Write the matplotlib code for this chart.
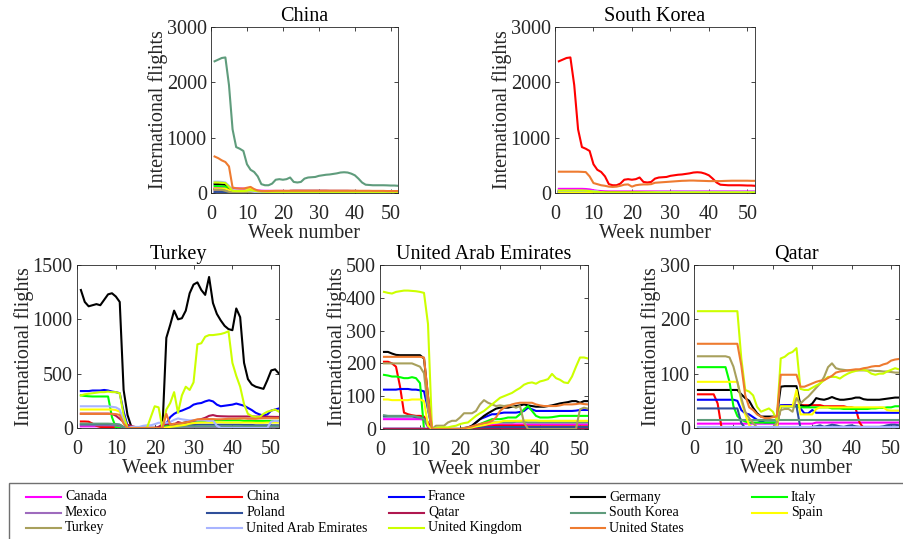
import numpy as np
import matplotlib.pyplot as plt
from matplotlib.lines import Line2D
from matplotlib.patches import Rectangle

plt.rcParams['font.family'] = ['Liberation Serif', 'DejaVu Serif']

countries = ['Canada', 'China', 'France', 'Germany', 'Italy',
             'Mexico', 'Poland', 'Qatar', 'South Korea', 'Spain',
             'Turkey', 'United Arab Emirates', 'United Kingdom', 'United States']

colors = {
    'Canada': '#ff00ff', 'China': '#ff0000', 'France': '#0000ff',
    'Germany': '#000000', 'Italy': '#00ff00', 'Mexico': '#9e6bbd',
    'Poland': '#2f4f9a', 'Qatar': '#b0174f', 'South Korea': '#5f9c7c',
    'Spain': '#ffff00', 'Turkey': '#a8a05c', 'United Arab Emirates': '#a8b4ff',
    'United Kingdom': '#ccff00', 'United States': '#ee7b30',
}

# weekly international flights per route, weeks 1..52 (13 weeks per row)

# --- routes from China
china_skorea = [2380, 2410, 2440, 2450, 1950, 1150, 830, 800, 760, 520, 420, 380, 300,
                160, 140, 140, 170, 240, 250, 240, 250, 280, 200, 190, 200, 260,
                280, 285, 290, 310, 320, 330, 335, 345, 355, 370, 375, 370, 350,
                320, 260, 190, 150, 145, 140, 140, 140, 140, 138, 135, 135, 130]
china_us = [660, 630, 590, 560, 480, 100, 85, 80, 80, 95, 110, 70, 45,
            35, 35, 35, 38, 40, 40, 40, 40, 40, 40, 40, 40, 40,
            40, 40, 40, 40, 40, 40, 40, 40, 40, 40, 40, 40, 40,
            40, 40, 40, 40, 40, 38, 38, 38, 38, 35, 35, 35, 35]
china_uk = [190, 190, 185, 180, 110, 40, 35, 35, 35, 40, 50, 40, 30,
            25, 22, 20, 20, 20, 20, 20, 20, 20, 20, 20, 20, 20,
            20, 20, 20, 20, 20, 20, 20, 20, 20, 20, 20, 20, 20,
            20, 20, 20, 20, 20, 20, 20, 20, 20, 20, 20, 20, 20]
china_germany = [160, 160, 155, 150, 100, 30, 25, 20, 20, 20, 20, 18, 15,
                 15, 15, 15, 15, 15, 15, 15, 15, 15, 15, 15, 15, 15,
                 15, 15, 15, 15, 15, 15, 15, 15, 15, 15, 15, 15, 15,
                 15, 15, 15, 15, 15, 15, 15, 15, 15, 15, 15, 15, 15]
china_italy = [125, 125, 120, 115, 60, 10, 8, 5, 5, 5, 5, 5, 3,
               3, 3, 3, 3, 3, 3, 3, 3, 3, 3, 3, 3, 3,
               3, 3, 3, 3, 3, 3, 3, 3, 3, 3, 3, 3, 3,
               3, 3, 3, 3, 3, 3, 3, 3, 3, 3, 3, 3, 3]
china_canada = [90, 90, 90, 88, 85, 84, 84, 82, 80, 70, 66, 60, 45,
                42, 40, 40, 38, 38, 38, 38, 36, 36, 36, 36, 36, 35,
                35, 35, 35, 35, 35, 35, 35, 35, 35, 35, 35, 35, 35,
                35, 34, 34, 34, 34, 34, 34, 34, 34, 33, 33, 33, 33]
china_spain = [80, 80, 80, 78, 50, 15, 10, 10, 20, 60, 90, 50, 15,
               10, 10, 10, 10, 10, 10, 10, 10, 10, 10, 10, 10, 10,
               10, 10, 10, 10, 10, 10, 10, 10, 10, 10, 10, 10, 10,
               10, 10, 10, 10, 10, 10, 10, 10, 10, 10, 10, 10, 10]
china_france = [70, 70, 70, 68, 40, 15, 12, 10, 10, 10, 10, 8, 6,
                5, 5, 5, 5, 5, 5, 5, 5, 5, 5, 5, 5, 5,
                6, 6, 6, 6, 6, 6, 6, 6, 6, 6, 6, 6, 6,
                6, 6, 6, 6, 6, 6, 6, 6, 6, 6, 6, 6, 6]
china_poland = [20, 20, 20, 18, 10, 4, 3, 3, 3, 3, 3, 2, 2,
                2, 2, 2, 2, 2, 2, 2, 2, 2, 2, 2, 2, 2,
                2, 2, 2, 2, 2, 2, 2, 2, 2, 2, 2, 2, 2,
                2, 2, 2, 2, 2, 2, 2, 2, 2, 2, 2, 2, 2]
china_mexico = [8, 8, 8, 8, 6, 4, 4, 4, 4, 4, 4, 3, 3,
                3, 3, 3, 3, 3, 3, 3, 3, 3, 3, 3, 3, 3,
                3, 3, 3, 3, 3, 3, 3, 3, 3, 3, 3, 3, 3,
                3, 3, 3, 3, 3, 3, 3, 3, 3, 3, 3, 3, 3]
china_turkey = [60, 60, 58, 40, 20, 10, 8, 8, 8, 8, 6, 3, 0,
                0, 0, 0, 0, 0, 0, 0, 0, 0, 2, 3, 3, 3,
                3, 3, 3, 3, 3, 3, 3, 3, 3, 3, 3, 3, 3,
                3, 3, 3, 3, 3, 3, 3, 3, 3, 3, 3, 3, 3]
china_uae = [205, 205, 200, 190, 130, 50, 45, 42, 40, 40, 38, 20, 0,
             0, 0, 0, 0, 0, 0, 0, 0, 2, 3, 3, 5, 5,
             8, 8, 10, 10, 10, 10, 10, 10, 10, 10, 8, 8, 8,
             8, 8, 8, 8, 8, 8, 8, 8, 8, 8, 8, 8, 8]
china_qatar = [62, 62, 62, 62, 62, 45, 0, 0, 0, 0, 0, 0, 0,
               0, 0, 0, 0, 0, 0, 0, 0, 40, 42, 42, 42, 42,
               42, 42, 42, 42, 42, 42, 40, 40, 40, 40, 40, 40, 38,
               38, 36, 10, 0, 0, 0, 0, 0, 0, 0, 0, 0, 0]

# --- routes from South Korea
skorea_us = [385, 385, 385, 385, 385, 385, 382, 378, 300, 180, 160, 140, 130,
             115, 110, 115, 130, 150, 155, 115, 140, 150, 155, 155, 160, 185,
             190, 195, 200, 205, 210, 215, 220, 222, 225, 225, 222, 220, 218,
             215, 215, 215, 215, 218, 220, 222, 222, 222, 222, 222, 220, 220]
skorea_canada = [75, 75, 75, 75, 75, 75, 75, 72, 65, 50, 40, 35, 30,
                 28, 28, 28, 28, 28, 28, 28, 28, 28, 28, 28, 28, 28,
                 28, 28, 28, 28, 28, 28, 28, 28, 28, 28, 28, 28, 28,
                 28, 28, 28, 28, 28, 28, 28, 28, 28, 28, 28, 28, 28]
skorea_uk = [45, 45, 45, 45, 45, 45, 45, 42, 35, 25, 20, 15, 12,
             12, 12, 12, 12, 12, 12, 12, 12, 12, 12, 12, 12, 12,
             12, 12, 12, 12, 12, 12, 12, 12, 12, 12, 12, 12, 12,
             12, 12, 12, 12, 12, 12, 12, 12, 12, 12, 12, 12, 12]
skorea_germany = [35, 35, 35, 35, 35, 35, 35, 33, 28, 15, 10, 8, 8,
                  8, 8, 8, 8, 8, 8, 8, 8, 8, 8, 8, 8, 8,
                  8, 8, 8, 8, 8, 8, 8, 8, 8, 8, 8, 8, 8,
                  8, 8, 8, 8, 8, 8, 8, 8, 8, 8, 8, 8, 8]
skorea_france = [25, 25, 25, 25, 25, 25, 25, 24, 20, 10, 6, 5, 5,
                 5, 5, 5, 5, 5, 5, 5, 5, 5, 5, 5, 5, 5,
                 5, 5, 5, 5, 5, 5, 5, 5, 5, 5, 5, 5, 5,
                 5, 5, 5, 5, 5, 5, 5, 5, 5, 5, 5, 5, 5]
skorea_italy = [15, 15, 15, 15, 15, 15, 15, 14, 10, 5, 2, 1, 1,
                1, 1, 1, 1, 1, 1, 1, 1, 1, 1, 1, 1, 1,
                1, 1, 1, 1, 1, 1, 1, 1, 1, 1, 1, 1, 1,
                1, 1, 1, 1, 1, 1, 1, 1, 1, 1, 1, 1, 1]
skorea_spain = [10, 10, 10, 10, 10, 10, 10, 10, 8, 4, 2, 1, 1,
                1, 1, 1, 1, 1, 1, 1, 1, 1, 1, 1, 1, 1,
                1, 1, 1, 1, 1, 1, 1, 1, 1, 1, 1, 1, 1,
                1, 1, 1, 1, 1, 1, 1, 1, 1, 1, 1, 1, 1]
skorea_mexico = [6, 6, 6, 6, 6, 6, 6, 6, 5, 4, 3, 3, 3,
                 3, 3, 3, 3, 3, 3, 3, 3, 3, 3, 3, 3, 3,
                 3, 3, 3, 3, 3, 3, 3, 3, 3, 3, 3, 3, 3,
                 3, 3, 3, 3, 3, 3, 3, 3, 3, 3, 3, 3, 3]
skorea_poland = [8, 8, 8, 8, 8, 8, 8, 8, 6, 4, 2, 2, 2,
                 2, 2, 2, 2, 2, 2, 2, 2, 2, 2, 2, 2, 2,
                 2, 2, 2, 2, 2, 2, 2, 2, 2, 2, 2, 2, 2,
                 2, 2, 2, 2, 2, 2, 2, 2, 2, 2, 2, 2, 2]
skorea_turkey = [40, 40, 40, 40, 40, 40, 40, 40, 38, 35, 30, 10, 0,
                 0, 0, 0, 0, 0, 0, 0, 0, 0, 5, 10, 10, 12,
                 12, 15, 15, 15, 15, 15, 15, 15, 15, 15, 15, 15, 15,
                 15, 15, 15, 15, 15, 15, 15, 15, 15, 15, 15, 15, 15]
skorea_uae = [42, 40, 40, 40, 40, 40, 40, 40, 38, 35, 30, 10, 0,
              0, 0, 0, 0, 0, 0, 0, 2, 3, 5, 8, 10, 15,
              20, 20, 20, 20, 20, 20, 20, 22, 22, 22, 20, 20, 20,
              20, 20, 20, 20, 20, 20, 20, 20, 20, 20, 20, 20, 20]
skorea_qatar = [14, 14, 14, 14, 14, 14, 14, 14, 14, 14, 14, 14, 14,
                14, 14, 14, 14, 14, 14, 14, 14, 14, 14, 14, 14, 14,
                14, 14, 14, 14, 14, 14, 14, 14, 14, 14, 14, 14, 14,
                14, 14, 14, 14, 14, 14, 14, 14, 14, 14, 14, 14, 14]

# --- routes from Turkey
germany_turkey = [1270, 1160, 1120, 1130, 1140, 1130, 1180, 1230, 1240, 1210, 1160, 350, 120,
                  10, 0, 0, 0, 0, 0, 0, 0, 0, 830, 950, 1080, 1000,
                  1010, 1080, 1240, 1320, 1340, 1270, 1225, 1390, 1150, 1050, 990, 940, 910,
                  900, 1100, 1020, 600, 450, 400, 380, 370, 360, 440, 530, 540, 500]
uk_turkey = [300, 310, 315, 320, 325, 330, 330, 335, 330, 330, 320, 120, 0,
             0, 0, 0, 0, 0, 100, 200, 190, 0, 170, 230, 330, 140,
             300, 380, 350, 420, 770, 780, 840, 855, 855, 860, 865, 875, 890,
             600, 480, 380, 220, 130, 110, 100, 100, 130, 150, 160, 170, 150]
france_turkey = [340, 340, 340, 345, 345, 345, 350, 345, 335, 330, 320, 150, 20,
                 0, 0, 0, 0, 0, 0, 0, 0, 0, 40, 100, 130, 150,
                 160, 175, 190, 215, 225, 230, 245, 255, 245, 215, 200, 205, 210,
                 215, 225, 215, 205, 185, 165, 140, 125, 115, 125, 160, 170, 180]
italy_turkey = [300, 295, 292, 290, 290, 290, 290, 290, 100, 5, 0, 0, 0,
                0, 0, 0, 0, 0, 0, 0, 0, 0, 20, 30, 35, 40,
                45, 50, 55, 60, 65, 65, 65, 70, 70, 70, 70, 70, 70,
                70, 70, 70, 65, 65, 65, 65, 65, 65, 65, 65, 65, 65]
turkey_uae = [200, 200, 200, 200, 200, 200, 200, 200, 195, 190, 170, 60, 0,
              10, 10, 10, 20, 25, 25, 35, 48, 48, 48, 55, 75, 88,
              80, 75, 70, 72, 70, 72, 70, 65, 70, 20, 0, 0, 0,
              0, 0, 0, 0, 0, 0, 0, 0, 0, 0, 60, 65, 62]
spain_turkey = [170, 170, 170, 170, 170, 170, 170, 170, 170, 165, 150, 60, 0,
                0, 0, 0, 0, 0, 0, 0, 0, 0, 5, 10, 15, 20,
                25, 30, 40, 45, 48, 50, 50, 50, 50, 52, 52, 50, 50,
                50, 50, 50, 50, 50, 50, 48, 48, 48, 50, 50, 50, 50]
us_turkey = [130, 130, 130, 130, 130, 130, 130, 130, 130, 128, 120, 40, 0,
             0, 0, 0, 0, 0, 0, 0, 0, 0, 130, 30, 40, 40,
             45, 50, 60, 70, 80, 80, 82, 82, 82, 80, 80, 82, 85,
             85, 85, 88, 88, 85, 85, 85, 88, 90, 90, 90, 90, 90]
turkey_qatar = [132, 132, 132, 132, 132, 132, 132, 132, 130, 113, 85, 55, 30,
                18, 9, 1, 1, 1, 1, 1, 10, 33, 35, 35, 30, 55,
                45, 52, 58, 66, 74, 82, 94, 112, 119, 110, 108, 107, 106,
                106, 106, 106, 106, 106, 106, 105, 105, 104, 104, 103, 102, 102]
canada_turkey = [15, 15, 15, 15, 15, 15, 15, 15, 15, 15, 12, 3, 0,
                 0, 0, 0, 0, 0, 0, 0, 0, 0, 3, 5, 6, 8,
                 8, 8, 8, 8, 8, 8, 8, 8, 8, 8, 8, 8, 8,
                 8, 8, 8, 8, 8, 8, 8, 8, 8, 8, 8, 8, 8]
mexico_turkey = [25, 25, 25, 25, 25, 25, 25, 25, 25, 24, 20, 5, 0,
                 0, 0, 0, 0, 0, 0, 0, 0, 0, 0, 1, 1, 2,
                 2, 2, 2, 2, 2, 2, 2, 2, 2, 2, 2, 2, 2,
                 2, 2, 2, 2, 2, 2, 2, 2, 2, 2, 2, 2, 2]
poland_turkey = [35, 35, 35, 35, 35, 35, 35, 35, 35, 34, 30, 8, 0,
                 0, 0, 0, 0, 0, 0, 0, 0, 0, 5, 10, 15, 20,
                 22, 25, 25, 28, 30, 30, 30, 30, 30, 30, 30, 30, 30,
                 30, 30, 30, 28, 28, 28, 25, 25, 25, 25, 25, 25, 25]

# --- routes from the United Arab Emirates
uk_uae = [418, 415, 413, 418, 420, 422, 422, 421, 420, 418, 415, 320, 0,
          3, 5, 5, 5, 8, 10, 15, 18, 20, 30, 40, 48, 55,
          65, 75, 85, 95, 100, 105, 110, 118, 125, 135, 140, 142, 138,
          145, 148, 152, 168, 155, 150, 142, 140, 160, 190, 218, 218, 215]
germany_uae = [235, 235, 230, 226, 225, 225, 225, 225, 225, 225, 215, 100, 0,
               0, 0, 0, 0, 0, 0, 0, 3, 5, 10, 20, 30, 40,
               48, 55, 62, 65, 65, 65, 68, 70, 72, 75, 72, 70, 68,
               68, 68, 70, 72, 75, 78, 80, 82, 85, 85, 80, 85, 85]
us_uae = [220, 220, 220, 220, 220, 220, 220, 220, 220, 220, 218, 100, 0,
          0, 0, 0, 0, 0, 0, 0, 2, 5, 8, 12, 15, 18,
          20, 25, 35, 55, 65, 70, 75, 78, 80, 80, 80, 80, 75,
          72, 70, 70, 70, 70, 72, 75, 75, 75, 76, 78, 76, 75]
italy_uae = [165, 163, 160, 160, 158, 155, 155, 158, 155, 140, 0, 0, 0,
             0, 0, 0, 0, 0, 0, 0, 0, 0, 5, 10, 15, 20,
             25, 30, 30, 30, 32, 35, 35, 35, 45, 60, 70, 55, 40,
             35, 35, 35, 36, 38, 40, 40, 40, 40, 40, 40, 40, 40]
france_uae = [120, 120, 120, 120, 122, 122, 122, 120, 120, 118, 115, 60, 0,
              0, 0, 0, 0, 0, 0, 0, 0, 3, 10, 20, 30, 35,
              40, 45, 45, 48, 50, 50, 50, 50, 52, 55, 65, 60, 55,
              55, 55, 55, 55, 55, 55, 55, 55, 55, 56, 58, 58, 58]
spain_uae = [90, 90, 88, 88, 88, 88, 88, 90, 90, 90, 85, 10, 0,
             0, 0, 0, 0, 0, 0, 0, 2, 3, 5, 8, 10, 12,
             15, 18, 20, 22, 25, 25, 25, 25, 25, 26, 26, 26, 26,
             25, 25, 25, 25, 25, 25, 25, 25, 25, 25, 25, 25, 25]
canada_uae = [30, 30, 30, 30, 30, 30, 30, 30, 30, 30, 28, 5, 0,
              0, 0, 0, 0, 0, 0, 0, 0, 2, 4, 6, 8, 10,
              12, 12, 12, 14, 14, 14, 14, 14, 14, 14, 14, 14, 14,
              14, 14, 14, 14, 14, 14, 14, 14, 14, 14, 14, 14, 14]
poland_uae = [38, 38, 38, 38, 38, 38, 38, 38, 36, 35, 32, 8, 0,
              0, 0, 0, 0, 0, 0, 0, 0, 1, 2, 3, 4, 5,
              6, 6, 6, 6, 6, 6, 6, 6, 6, 6, 6, 6, 6,
              6, 6, 6, 6, 6, 6, 6, 6, 6, 6, 6, 6, 6]
mexico_uae = [2, 2, 2, 2, 2, 2, 2, 2, 2, 2, 2, 0, 0,
              0, 0, 0, 0, 0, 0, 0, 0, 0, 0, 0, 0, 0,
              1, 1, 1, 1, 1, 1, 1, 1, 1, 1, 1, 1, 1,
              1, 1, 1, 1, 1, 1, 1, 1, 1, 1, 1, 1, 1]
uae_qatar = [1, 1, 1, 1, 1, 1, 1, 1, 1, 1, 1, 1, 1,
             1, 1, 1, 1, 1, 1, 1, 1, 1, 1, 1, 1, 1,
             1, 1, 1, 1, 1, 1, 1, 1, 1, 1, 1, 1, 1,
             1, 1, 1, 1, 1, 1, 1, 1, 1, 1, 1, 1, 1]

# --- routes from Qatar
uk_qatar = [215, 215, 215, 215, 215, 215, 215, 215, 215, 215, 215, 128, 70,
            67, 60, 39, 30, 33, 36, 30, 15, 128, 131, 137, 140, 147,
            72, 70, 70, 74, 78, 82, 88, 94, 94, 94, 91, 96, 100,
            103, 105, 107, 107, 105, 100, 98, 100, 100, 104, 107, 110, 108]
us_qatar = [155, 155, 155, 155, 155, 155, 155, 155, 155, 155, 155, 115, 60,
            38, 33, 25, 21, 18, 18, 20, 21, 98, 98, 98, 98, 98,
            76, 76, 79, 82, 85, 87, 88, 92, 96, 102, 104, 105, 106,
            107, 108, 108, 110, 111, 113, 114, 114, 117, 119, 124, 126, 127]
germany_qatar = [70, 70, 70, 70, 70, 70, 70, 70, 70, 70, 70, 62, 55,
                 50, 37, 27, 21, 21, 21, 21, 21, 76, 77, 77, 77, 77,
                 42, 40, 40, 45, 55, 53, 52, 54, 57, 54, 52, 52, 53,
                 54, 56, 56, 53, 52, 52, 52, 52, 53, 54, 55, 56, 56]
italy_qatar = [112, 112, 112, 112, 112, 112, 112, 112, 85, 40, 22, 15, 12,
               10, 10, 10, 10, 10, 10, 10, 10, 40, 40, 40, 40, 40,
               38, 38, 38, 38, 38, 38, 38, 38, 36, 36, 36, 35, 35,
               35, 35, 35, 35, 35, 36, 36, 37, 37, 38, 38, 40, 40]
spain_qatar = [85, 85, 85, 85, 85, 85, 85, 85, 85, 85, 85, 50, 25,
               5, 0, 0, 0, 0, 0, 0, 2, 40, 40, 40, 40, 70,
               25, 25, 25, 25, 35, 38, 38, 38, 38, 38, 38, 38, 38,
               38, 38, 38, 38, 38, 38, 38, 38, 38, 33, 32, 32, 32]
france_qatar = [52, 52, 52, 52, 52, 52, 52, 52, 52, 52, 50, 33, 27,
                25, 20, 15, 12, 10, 10, 10, 10, 42, 42, 42, 42, 42,
                36, 27, 27, 33, 28, 28, 28, 28, 28, 28, 28, 28, 28,
                28, 28, 28, 28, 28, 28, 28, 28, 28, 28, 28, 28, 28]
poland_qatar = [36, 36, 36, 36, 36, 36, 36, 36, 36, 36, 36, 9, 0,
                0, 0, 0, 0, 0, 0, 0, 0, 40, 40, 40, 40, 40,
                0, 0, 0, 2, 3, 5, 2, 4, 6, 5, 3, 2, 4,
                5, 3, 2, 2, 2, 2, 2, 2, 3, 5, 6, 6, 5]
canada_qatar = [8, 8, 8, 8, 8, 8, 8, 8, 8, 8, 8, 8, 8,
                8, 8, 8, 8, 8, 8, 8, 8, 8, 8, 8, 8, 8,
                8, 8, 8, 8, 10, 10, 10, 10, 10, 10, 10, 10, 10,
                10, 10, 10, 10, 10, 10, 10, 10, 10, 10, 10, 10, 10]
mexico_qatar = [1, 1, 1, 1, 1, 1, 1, 1, 1, 1, 1, 1, 1,
                1, 1, 1, 1, 1, 1, 1, 1, 1, 1, 1, 1, 1,
                1, 1, 1, 1, 1, 1, 1, 1, 1, 1, 1, 1, 1,
                1, 1, 1, 1, 1, 1, 1, 1, 1, 1, 1, 1, 1]

panels = {
    'China': {
        'Canada': china_canada, 'France': china_france, 'Germany': china_germany,
        'Italy': china_italy, 'Mexico': china_mexico, 'Poland': china_poland,
        'Qatar': china_qatar, 'South Korea': china_skorea, 'Spain': china_spain,
        'Turkey': china_turkey, 'United Arab Emirates': china_uae,
        'United Kingdom': china_uk, 'United States': china_us},
    'South Korea': {
        'Canada': skorea_canada, 'China': china_skorea, 'France': skorea_france,
        'Germany': skorea_germany, 'Italy': skorea_italy, 'Mexico': skorea_mexico,
        'Poland': skorea_poland, 'Qatar': skorea_qatar, 'Spain': skorea_spain,
        'Turkey': skorea_turkey, 'United Arab Emirates': skorea_uae,
        'United Kingdom': skorea_uk, 'United States': skorea_us},
    'Turkey': {
        'Canada': canada_turkey, 'China': china_turkey, 'France': france_turkey,
        'Germany': germany_turkey, 'Italy': italy_turkey, 'Mexico': mexico_turkey,
        'Poland': poland_turkey, 'Qatar': turkey_qatar, 'South Korea': skorea_turkey,
        'Spain': spain_turkey, 'United Arab Emirates': turkey_uae,
        'United Kingdom': uk_turkey, 'United States': us_turkey},
    'United Arab Emirates': {
        'Canada': canada_uae, 'China': china_uae, 'France': france_uae,
        'Germany': germany_uae, 'Italy': italy_uae, 'Mexico': mexico_uae,
        'Poland': poland_uae, 'Qatar': uae_qatar, 'South Korea': skorea_uae,
        'Spain': spain_uae, 'Turkey': turkey_uae,
        'United Kingdom': uk_uae, 'United States': us_uae},
    'Qatar': {
        'Canada': canada_qatar, 'China': china_qatar, 'France': france_qatar,
        'Germany': germany_qatar, 'Italy': italy_qatar, 'Mexico': mexico_qatar,
        'Poland': poland_qatar, 'South Korea': skorea_qatar, 'Spain': spain_qatar,
        'Turkey': turkey_qatar, 'United Arab Emirates': uae_qatar,
        'United Kingdom': uk_qatar, 'United States': us_qatar},
}

yticks = {
    'China': [0, 1000, 2000, 3000],
    'South Korea': [0, 1000, 2000, 3000],
    'Turkey': [0, 500, 1000, 1500],
    'United Arab Emirates': [0, 100, 200, 300, 400, 500],
    'Qatar': [0, 100, 200, 300],
}

# axes boxes in pixels: left, top, right, bottom
W, H = 904, 539
boxes = {
    'China': (211, 27, 398, 193),
    'South Korea': (555, 27, 755, 193),
    'Turkey': (77, 265, 279, 428),
    'United Arab Emirates': (380, 265, 588, 429),
    'Qatar': (694, 265, 899, 428),
}

fig = plt.figure(figsize=(W / 100, H / 100), dpi=100)
ink = '#262626'
fs = 14.5

for name, routes in panels.items():
    l, t, r, b = boxes[name]
    ax = fig.add_axes([l / W, 1 - b / H, (r - l) / W, (b - t) / H])
    for c in countries:
        if c in routes:
            vals = routes[c]
            ax.plot(np.arange(1, len(vals) + 1), vals, color=colors[c], lw=1.5)
    ax.set_xlim(0, 52)
    ax.set_ylim(yticks[name][0], yticks[name][-1])
    ax.set_xticks([0, 10, 20, 30, 40, 50])
    ax.set_yticks(yticks[name])
    ax.tick_params(direction='in', length=3, width=0.6, top=True, right=True,
                   labelsize=fs, colors=ink)
    ax.tick_params(axis='x', pad=8.5)
    ax.tick_params(axis='y', pad=3)
    for s in ax.spines.values():
        s.set_linewidth(0.6)
        s.set_color(ink)
    ax.set_title(name, fontsize=fs, pad=4)
    ax.set_xlabel('Week number', fontsize=fs, color=ink, labelpad=0)
    ax.set_ylabel('International flights', fontsize=fs, color=ink, labelpad=-1)

# legend box along the bottom
fig.patches.append(Rectangle((9 / W, -0.02), 1.0, (H - 483) / H + 0.02,
                             transform=fig.transFigure, fill=False,
                             edgecolor='#707070', lw=1.0))
for i, c in enumerate(countries):
    row, col = divmod(i, 5)
    x0 = 26 + col * 181.5
    y = 497 + row * 15.5
    fig.add_artist(Line2D([x0 / W, (x0 + 35) / W], [1 - y / H, 1 - y / H],
                          color=colors[c], lw=1.5, transform=fig.transFigure))
    fig.text((x0 + 39) / W, 1 - y / H, c, fontsize=10, va='center', ha='left')

fig.savefig('out.png', dpi=100)
